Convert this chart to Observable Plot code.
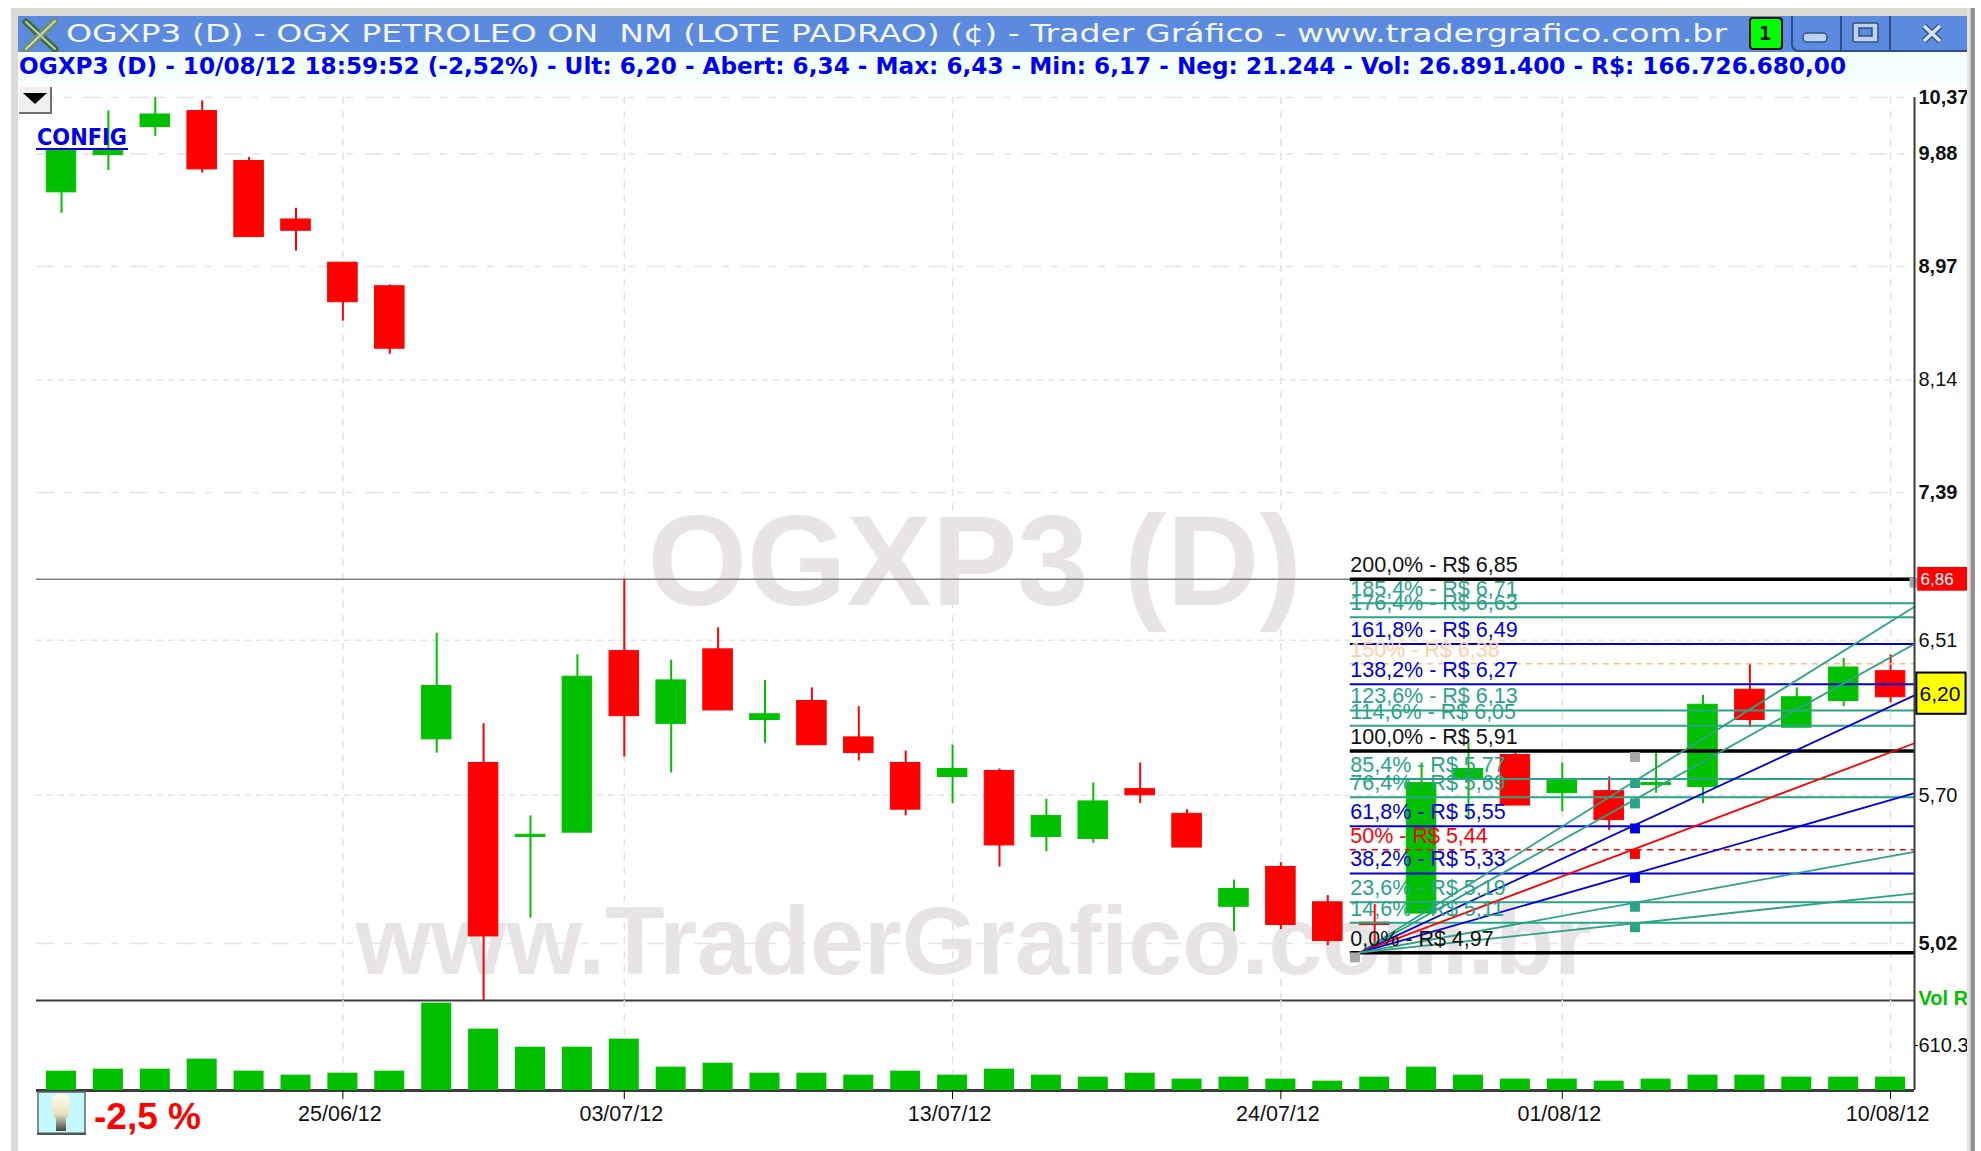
<!doctype html>
<html><head><meta charset="utf-8">
<script src="https://cdn.jsdelivr.net/npm/d3@7"></script>
<script src="https://cdn.jsdelivr.net/npm/@observablehq/plot@0.6"></script>
<style>
html,body{margin:0;background:#fff}
#page{position:relative;width:1981px;height:1151px;overflow:hidden;background:#fff;font-family:"Liberation Sans",sans-serif}
#page>svg,#page>figure{position:absolute;left:0;top:0;margin:0}
.abs{position:absolute}
.txt{position:absolute;white-space:pre;transform-origin:0 50%}
</style></head><body><div id="page">
<div class="abs" style="left:11px;top:8px;width:1956px;height:1140px;border:solid #dcdad4;border-width:8px 0 3px 7px"></div>
<div class="abs" style="left:1967px;top:8px;width:8px;height:1143px;background:linear-gradient(90deg,#e6e4de 0 30%,#8a8a88 60%,#9a9a98)"></div>
</div>
<script>
// ---- price candles, in R$ (session order, 40 daily sessions) ----
const opens =[9.56,9.87,10.11,10.25,9.82,9.34,9.00,8.82,5.98,5.86,5.50,5.52,6.45,6.06,6.46,6.08,6.18,5.99,5.86,5.79,5.82,5.50,5.49,5.73,5.61,5.18,5.36,5.20,5.11,5.15,5.78,5.90,5.71,5.72,5.75,5.74,6.24,6.04,6.18,6.34];
const highs =[9.93,10.25,10.37,10.34,9.85,9.43,9.00,8.83,6.55,6.06,5.60,6.43,6.86,6.40,6.58,6.29,6.25,6.15,5.92,5.95,5.83,5.68,5.76,5.86,5.63,5.30,5.38,5.23,5.19,5.86,5.96,5.91,5.86,5.79,5.91,6.21,6.38,6.25,6.41,6.43];
const lows  =[9.39,9.74,10.03,9.72,9.20,9.09,8.56,8.32,5.91,4.78,5.13,5.52,5.89,5.81,6.13,5.96,5.95,5.87,5.60,5.66,5.36,5.43,5.47,5.66,5.45,5.07,5.08,5.01,5.02,5.15,5.58,5.65,5.62,5.53,5.71,5.66,6.04,6.04,6.15,6.17];
const closes=[9.91,9.91,10.22,9.75,9.20,9.25,8.70,8.36,6.26,5.05,5.51,6.31,6.10,6.29,6.13,6.11,5.95,5.91,5.63,5.83,5.46,5.60,5.67,5.70,5.45,5.26,5.10,5.03,5.10,5.76,5.83,5.65,5.77,5.58,5.76,6.16,6.08,6.20,6.36,6.20];
const isDown=[0,0,0,1,1,1,1,1,0,1,0,0,1,0,1,0,1,1,1,0,1,0,0,1,1,0,1,1,1,0,0,1,0,1,0,0,1,0,0,1];
// ---- volume (axis unit: the 610.3 tick) ----
const volumes=[262,289,289,425,262,208,235,262,1184,832,587,587,696,316,370,235,235,208,262,208,289,208,181,235,154,181,154,127,181,316,208,154,154,127,154,208,208,181,181,181];
// ---- Fibonacci levels ----
const fibLabels=["200,0% - R$ 6,85","185,4% - R$ 6,71","176,4% - R$ 6,63","161,8% - R$ 6,49","150% - R$ 6,38","138,2% - R$ 6,27","123,6% - R$ 6,13","114,6% - R$ 6,05","100,0% - R$ 5,91","85,4% - R$ 5,77","76,4% - R$ 5,69","61,8% - R$ 5,55","50% - R$ 5,44","38,2% - R$ 5,33","23,6% - R$ 5,19","14,6% - R$ 5,11","0,0% - R$ 4,97"];
const fibPrices=[6.86,6.72,6.64,6.49,6.38,6.27,6.13,6.05,5.92,5.78,5.69,5.55,5.44,5.33,5.20,5.11,4.98];
const fibKinds =["k","t","t","b","o","b","t","t","k","t","t","b","r","b","t","t","k"];
// ---- fan lines: end price on the right axis, and marker price ----
const fanEnds   =[6.70,6.49,6.21,5.96,5.71,5.43,5.24];
const fanKinds  =["t","t","b","r","b","t","t"];
const fanMarkers=[5.76,5.66,5.54,5.42,5.31,5.18,5.09];
const anchorPrices=[4.96,5.89,6.84];
// ---- axes ----
const dateTicks=[6,12,19,26,32,39];
const dateLabels=["25/06/12","03/07/12","13/07/12","24/07/12","01/08/12","10/08/12"];
const boldTicks=[10.37,9.88,8.97,7.39,5.02];
const plainTicks=[8.14,6.51,5.70];
const LAST=6.20, PEAK=6.86, VOLTICK=610.3;

const COLORS={k:"#000000",t:"#2aa387",b:"#0000e6",o:"#ffc08a",r:"#ff0000"};
const LABELCOLORS={k:"#111111",t:"#2aa387",b:"#0000e6",o:"#ffcfa6",r:"#ff0000"};
const GREEN="#00c000", RED="#ff0000", GRID="#e8e2e2", AXIS="#3c3c3c";
const X0=-0.533,X1=39.51;
const FIBX=27.48,ORIGX=27.68,MARKX=33.55;
const comma=d=>d.toFixed(2).replace(".",",");
const idx=d3.range(opens.length);
const candles=idx.map(i=>({i,top:Math.max(opens[i],closes[i]),bot:Math.min(opens[i],closes[i]),hi:highs[i],lo:lows[i],c:isDown[i]?RED:GREEN}));
const fib=fibLabels.map((l,i)=>({l,p:fibPrices[i],k:fibKinds[i]}));
const fans=fanEnds.map((e,i)=>({e,k:fanKinds[i],m:fanMarkers[i]}));
const base={width:1967,height:1151,marginLeft:36,marginRight:53,
  style:{background:"transparent",fontFamily:"Liberation Sans",overflow:"hidden"},
  x:{domain:[X0,X1],axis:null}};

const price=Plot.plot({...base,marginTop:97,marginBottom:151,
  y:{type:"log",domain:[4.78,10.37],axis:null},
  marks:[
    Plot.text(["OGXP3 (D)"],{x:()=>19.47,y:()=>6.95,fontSize:128,fontWeight:"bold",fill:"#e7e3e7",lineAnchor:"middle"}),
    Plot.text(["www.TraderGrafico.com.br"],{x:()=>19.45,y:()=>5.02,fontSize:97,fontWeight:"bold",fill:"#e7e3e7",lineAnchor:"middle"}),
    Plot.ruleY(boldTicks,{stroke:GRID,strokeWidth:1.5,strokeDasharray:"18 10 7 12"}),
    Plot.ruleY(plainTicks,{stroke:GRID,strokeWidth:1.5,strokeDasharray:"6 5"}),
    Plot.ruleX(dateTicks,{stroke:"#e0e0e0",strokeWidth:1.5,strokeDasharray:"7 7"}),
    Plot.ruleY([PEAK],{stroke:"#808080",strokeWidth:1.5}),
    Plot.ruleX(candles,{x:"i",y1:"lo",y2:"hi",stroke:"c",strokeWidth:2}),
    Plot.rect(candles,{x1:d=>d.i-0.315,x2:d=>d.i+0.315,y1:"bot",y2:"top",fill:"c",stroke:"c",strokeWidth:1}),
    Plot.ruleY(fib.filter(d=>d.k!="o"&&d.k!="r"),{x1:FIBX,x2:X1,y:"p",stroke:d=>COLORS[d.k],strokeWidth:d=>d.k=="k"?3.5:2}),
    Plot.ruleY(fib.filter(d=>d.k=="o"||d.k=="r"),{x1:FIBX,x2:X1,y:"p",stroke:d=>COLORS[d.k],strokeWidth:1.5,strokeDasharray:"6 5"}),
    ...fans.map(d=>Plot.line([[ORIGX,fibPrices[16]],[X1,d.e]],{x:"0",y:"1",stroke:COLORS[d.k],strokeWidth:1.8})),
    Plot.dot(fans,{x:()=>MARKX,y:"m",symbol:"square",r:5.6,fill:d=>COLORS[d.k]}),
    Plot.dot(anchorPrices,{x:[FIBX+0.1,MARKX,X1],y:d=>d,symbol:"square",r:5.6,fill:"#a8a8a8"}),
    Plot.text(fib,{x:()=>FIBX,y:"p",text:"l",fill:d=>LABELCOLORS[d.k],fontSize:21.5,textAnchor:"start",lineAnchor:"middle",dy:-14}),
    Plot.ruleX([X1],{stroke:AXIS,strokeWidth:2}),
    Plot.ruleY([4.78],{stroke:AXIS,strokeWidth:2}),
    Plot.rect([PEAK],{x1:()=>X1+0.07,x2:()=>X1+1.2,y1:()=>6.79,y2:()=>6.93,fill:"#ff0000"}),
    Plot.rect([LAST],{x1:()=>X1+0.05,x2:()=>X1+1.1,y1:()=>6.11,y2:()=>6.33,fill:"#ffff00",stroke:"#000",strokeWidth:2}),
    Plot.axisY(boldTicks,{anchor:"right",tickSize:0,tickPadding:4,fontSize:20,fontWeight:"bold",fill:"#111",tickFormat:comma,label:null}),
    Plot.axisY(plainTicks,{anchor:"right",tickSize:0,tickPadding:4,fontSize:20,fill:"#111",tickFormat:comma,label:null}),
    Plot.axisY([PEAK],{anchor:"right",tickSize:0,tickPadding:6,fontSize:17,fill:"#fff",tickFormat:comma,label:null}),
    Plot.axisY([LAST],{anchor:"right",tickSize:0,tickPadding:5,fontSize:21,fill:"#000",dy:-3,tickFormat:comma,label:null})
  ]});

const vol=Plot.plot({...base,marginTop:1000,marginBottom:61,
  y:{domain:[0,1220],axis:null},
  marks:[
    Plot.ruleX(dateTicks,{stroke:"#e0e0e0",strokeWidth:1.5,strokeDasharray:"7 7"}),
    Plot.ruleX([X1],{stroke:AXIS,strokeWidth:2}),
    Plot.ruleY([0],{stroke:AXIS,strokeWidth:3}),
    Plot.rectY(idx,{x1:i=>i-0.32,x2:i=>i+0.32,y1:()=>0,y2:i=>volumes[i],fill:GREEN}),
    Plot.axisX(dateTicks,{anchor:"bottom",tickSize:9,text:null,stroke:"#000",label:null}),
    Plot.axisX(dateTicks,{anchor:"bottom",tickSize:0,tickPadding:15,dx:-3,fontSize:21.5,fill:"#111",tickFormat:d=>dateLabels[dateTicks.indexOf(d)],label:null}),
    Plot.axisY([VOLTICK],{anchor:"right",tickSize:3,tickPadding:1,fontSize:20,fill:"#111",tickFormat:d=>String(d),label:null}),
    Plot.text(["Vol R$"],{frameAnchor:"top-right",dx:4,dy:-2,x:()=>X1,y:()=>1220,textAnchor:"start",lineAnchor:"middle",fontSize:20,fontWeight:"bold",fill:GREEN})
  ]});

const page=document.getElementById("page");
page.append(price,vol);

// window chrome
function add(html){const t=document.createElement("template");t.innerHTML=html.trim();const e=t.content.firstChild;page.append(e);return e}
function text(s,x,cy,width,css){const e=document.createElement("div");e.className="txt";e.style.cssText=`left:${x}px;top:${cy}px;${css}`;e.textContent=s;page.append(e);
  const w=e.getBoundingClientRect().width,h=e.getBoundingClientRect().height;e.style.top=(cy-h/2)+"px";if(width)e.style.transform=`scaleX(${width/w})`;return e}
add(`<div class="abs" style="left:18px;top:16px;width:1949px;height:36px;background:#5b8ade"></div>`);
add(`<div class="abs" style="left:18px;top:52px;width:1949px;height:30px;background:#f4ffff"></div>`);
add(`<svg class="abs" style="left:22px;top:18px" width="38" height="34"><g fill="none" stroke-linecap="round"><path d="M4 4L33 31" stroke="#3d6d3a" stroke-width="7"/><path d="M33 3L4 31" stroke="#6f8f6a" stroke-width="7"/><path d="M33 3L4 31" stroke="#c9d6b8" stroke-width="2"/><path d="M4 4L33 31" stroke="#b9ccb0" stroke-width="2"/></g></svg>`);
text("OGXP3 (D) - OGX PETROLEO ON  NM (LOTE PADRAO) (¢) - Trader Gráfico - www.tradergrafico.com.br",66,33,1661,"font:25px 'DejaVu Sans';color:#f2f6ff");
text("OGXP3 (D) - 10/08/12 18:59:52 (-2,52%) - Ult: 6,20 - Abert: 6,34 - Max: 6,43 - Min: 6,17 - Neg: 21.244 - Vol: 26.891.400 - R$: 166.726.680,00",19,66,1827,"font:bold 23px 'DejaVu Sans';color:#0000f0");
add(`<div class="abs" style="left:1749px;top:17px;width:30px;height:29px;background:#00ff00;border:2px solid #111;border-radius:4px"></div>`);
text("1",1759,33,0,"font:bold 20px 'DejaVu Sans Mono';color:#111");
add(`<svg class="abs" style="left:1785px;top:16px" width="182" height="36"><g stroke="#2f4f8a" stroke-width="2" fill="none"><path d="M7 0V28Q7 33 12 35H182"/><path d="M56 0V36M105 0V36"/></g>
<rect x="18" y="17" width="24" height="9" rx="4" fill="#bcd2f2" stroke="#35507f" stroke-width="1.5"/>
<rect x="68" y="7" width="25" height="19" rx="2" fill="#bcd2f2" stroke="#35507f" stroke-width="1.5"/><rect x="74" y="12" width="13" height="8" fill="#5b8ade" stroke="#35507f" stroke-width="1.5"/>
<path d="M139 10L155 25M155 10L139 25" stroke="#35507f" stroke-width="6"/><path d="M139 10L155 25M155 10L139 25" stroke="#d6e2f6" stroke-width="3.5"/></svg>`);
add(`<svg class="abs" style="left:18px;top:86px" width="34" height="28"><rect x="1" y="1" width="32" height="26" fill="#f0f0f0"/><path d="M1 27H33V1" fill="none" stroke="#707070" stroke-width="2"/><path d="M5 7H29L17 18Z" fill="#000"/></svg>`);
text("CONFIG",37,137,90,"font:bold 23px 'DejaVu Sans';color:#0000e6");
add(`<div class="abs" style="left:36px;top:148px;width:92px;height:2px;background:#0000e6"></div>`);
add(`<svg class="abs" style="left:37px;top:1091px" width="49" height="44"><defs><linearGradient id="bulb" x1="0" y1="0" x2="0" y2="1"><stop offset="0" stop-color="#fffdf0"/><stop offset=".55" stop-color="#e8e2c0"/><stop offset="1" stop-color="#444"/></linearGradient></defs>
<rect x="1" y="1" width="47" height="42" fill="#c4f8ff"/><path d="M1 43V1H48V43Z" fill="none" stroke="#666" stroke-width="1.5"/><path d="M0 43H49" stroke="#555" stroke-width="3"/>
<path d="M15 6Q24 -1 33 6Q35 20 29 28V40H19V28Q13 20 15 6Z" fill="url(#bulb)"/></svg>`);
text("-2,5 %",94,1117,0,"font:bold 37px 'Liberation Sans';color:#ff0000");
</script></body></html>
